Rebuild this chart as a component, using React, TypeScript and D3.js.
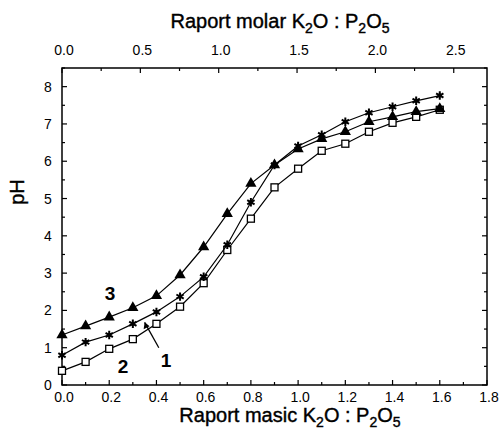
import React, { useEffect, useRef } from "react";
import * as d3 from "d3";

// mass ratio K2O:P2O5
const masic = [0, 0.1, 0.2, 0.3, 0.4, 0.5, 0.6, 0.7, 0.8, 0.9, 1.0, 1.1, 1.2, 1.3, 1.4, 1.5, 1.6];
// curve 2 (open squares)
const curve2 = [0.38, 0.62, 0.97, 1.23, 1.64, 2.1, 2.73, 3.62, 4.46, 5.3, 5.8, 6.28, 6.47, 6.79, 7.03, 7.19, 7.38];
// curve 1 (stars)
const curve1 = [0.8, 1.15, 1.34, 1.64, 1.96, 2.37, 2.9, 3.76, 4.9, 5.9, 6.41, 6.71, 7.06, 7.3, 7.46, 7.62, 7.76];
// curve 3 (filled triangles)
const curve3 = [1.34, 1.58, 1.82, 2.07, 2.39, 2.95, 3.7, 4.59, 5.4, 5.9, 6.33, 6.6, 6.79, 7.06, 7.19, 7.33, 7.41];

const bottomTicks = [0, 0.2, 0.4, 0.6, 0.8, 1.0, 1.2, 1.4, 1.6, 1.8];
const topTicks = [0, 0.5, 1.0, 1.5, 2.0, 2.5];
const yTicks = [0, 1, 2, 3, 4, 5, 6, 7, 8];

// molar -> mass conversion factor (M K2O / M P2O5)
const molarToMass = 94.2 / 141.94;

export default function App() {
  const ref = useRef<SVGSVGElement>(null);

  useEffect(() => {
    const svg = d3.select(ref.current);
    svg.selectAll("*").remove();

    const left = 62, right = 487, top = 68, bottom = 385;
    const x = d3.scaleLinear().domain([0, 1.8]).range([left, right]);
    const y = d3.scaleLinear().domain([0, 8.5]).range([bottom, top]);
    const font = "'Liberation Sans', Arial, sans-serif";

    svg.append("rect").attr("width", 499).attr("height", 434).attr("fill", "#fff");

    // frame
    svg.append("rect")
      .attr("x", left).attr("y", top)
      .attr("width", right - left).attr("height", bottom - top)
      .attr("fill", "none").attr("stroke", "#000").attr("stroke-width", 1.5);

    // bottom (mass) ticks
    const g = svg.append("g").attr("stroke", "#000").attr("stroke-width", 1.2);
    d3.range(0, 1.81, 0.1).forEach((v, i) => {
      const len = i % 2 === 0 ? 5 : 3;
      g.append("line").attr("x1", x(v)).attr("x2", x(v)).attr("y1", bottom).attr("y2", bottom - len);
    });
    // top molar ticks
    d3.range(0, 2.71, 0.25).forEach((v, i) => {
      const len = i % 2 === 0 ? 5 : 3;
      const px = x(v * molarToMass);
      g.append("line").attr("x1", px).attr("x2", px).attr("y1", top).attr("y2", top + len);
    });
    // left/right ticks
    d3.range(0, 8.51, 0.5).forEach((v, i) => {
      const len = i % 2 === 0 ? 5 : 3;
      g.append("line").attr("x1", left).attr("x2", left + len).attr("y1", y(v)).attr("y2", y(v));
      g.append("line").attr("x1", right).attr("x2", right - len).attr("y1", y(v)).attr("y2", y(v));
    });

    // tick labels
    svg.append("g").selectAll("text").data(bottomTicks).join("text")
      .attr("x", (d) => x(d) + 2).attr("y", bottom + 17)
      .attr("text-anchor", "middle").attr("font-family", font).attr("font-size", 14)
      .text((d) => d.toFixed(1));
    svg.append("g").selectAll("text").data(topTicks).join("text")
      .attr("x", (d) => x(d * molarToMass) + 2).attr("y", top - 13)
      .attr("text-anchor", "middle").attr("font-family", font).attr("font-size", 14)
      .text((d) => d.toFixed(1));
    svg.append("g").selectAll("text").data(yTicks).join("text")
      .attr("x", left - 14).attr("y", (d) => y(d) + 5)
      .attr("text-anchor", "middle").attr("font-family", font).attr("font-size", 14)
      .text((d) => d);

    // axis titles
    const title = (tx: number, ty: number) => {
      const t = svg.append("text").attr("x", tx).attr("y", ty)
        .attr("text-anchor", "middle").attr("font-family", font).attr("font-size", 20)
        .attr("stroke", "#000").attr("stroke-width", 0.4);
      t.append("tspan").text("Raport ");
      return t;
    };
    const addFormula = (t: any) => {
      t.append("tspan").text("K");
      t.append("tspan").attr("dy", 5).attr("font-size", 14).text("2");
      t.append("tspan").attr("dy", -5).text("O : P");
      t.append("tspan").attr("dy", 5).attr("font-size", 14).text("2");
      t.append("tspan").attr("dy", -5).text("O");
      t.append("tspan").attr("dy", 5).attr("font-size", 14).text("5");
    };
    const tTop = title(280, 28);
    tTop.append("tspan").text("molar ");
    addFormula(tTop);
    const tBot = title(290, 422);
    tBot.append("tspan").text("masic ");
    addFormula(tBot);

    svg.append("text")
      .attr("transform", "translate(24,192) rotate(-90)")
      .attr("text-anchor", "middle").attr("font-family", font).attr("font-size", 20)
      .attr("stroke", "#000").attr("stroke-width", 0.4)
      .text("pH");

    // series
    const series = [
      { values: curve2, marker: "square" },
      { values: curve1, marker: "star" },
      { values: curve3, marker: "triangle" },
    ];
    const line = d3.line<number>().x((_, i) => x(masic[i])).y((d) => y(d));
    series.forEach((s) => {
      svg.append("path").attr("d", line(s.values) as string)
        .attr("fill", "none").attr("stroke", "#000").attr("stroke-width", 1.2);
      const pts = svg.append("g");
      s.values.forEach((v, i) => {
        const px = x(masic[i]), py = y(v);
        if (s.marker === "square") {
          pts.append("rect").attr("x", px - 3.5).attr("y", py - 3.5).attr("width", 7).attr("height", 7)
            .attr("fill", "#fff").attr("stroke", "#000").attr("stroke-width", 1.3);
        } else if (s.marker === "triangle") {
          pts.append("path").attr("transform", `translate(${px},${py})`)
            .attr("d", d3.symbol(d3.symbolTriangle, 55)() as string).attr("fill", "#000");
        } else {
          pts.append("path").attr("transform", `translate(${px},${py})`)
            .attr("d", d3.symbol(d3.symbolAsterisk, 50)() as string)
            .attr("fill", "none").attr("stroke", "#000").attr("stroke-width", 2);
          pts.append("circle").attr("cx", px).attr("cy", py).attr("r", 2).attr("fill", "#000");
        }
      });
    });

    // curve labels
    const lbl = (tx: number, ty: number, s: string) =>
      svg.append("text").attr("x", tx).attr("y", ty).attr("text-anchor", "middle")
        .attr("font-family", font).attr("font-size", 19).attr("font-weight", "bold").text(s);
    lbl(110, 300, "3");
    lbl(123, 373, "2");
    lbl(166, 367, "1");
    // arrow from "1" to curve 1
    svg.append("line").attr("x1", x(0.41)).attr("y1", y(1.0)).attr("x2", x(0.35)).attr("y2", y(1.68))
      .attr("stroke", "#000").attr("stroke-width", 1.3);
    svg.append("path")
      .attr("d", `M${x(0.35)},${y(1.68)} l-1,7 l6,-3 z`)
      .attr("fill", "#000");
  }, []);

  return (
    <svg ref={ref} width={499} height={434}
      style={{ display: "block", position: "absolute", left: 0, top: 0 }} />
  );
}
